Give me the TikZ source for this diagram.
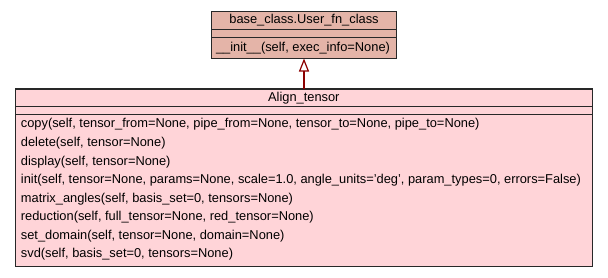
\documentclass[tikz,border=0pt]{standalone}
\usepackage{fontspec}
\setmainfont{Liberation Sans}
\usetikzlibrary{arrows.meta}
\definecolor{baseFill}{RGB}{228,180,168}
\definecolor{clsFill}{RGB}{255,212,216}
\definecolor{edge}{RGB}{40,40,40}
\definecolor{inherit}{RGB}{140,0,0}
\tikzset{
  x=1bp, y=-1bp,
  umlbox/.style={draw=edge, line width=1.2bp},
  umltext/.style={font=\fontsize{12.9}{14}\selectfont, inner sep=0pt, anchor=west, text=black},
  umltitle/.style={font=\fontsize{12.9}{14}\selectfont, inner sep=0pt, text=black},
}
\begin{document}
\begin{tikzpicture}
\useasboundingbox (0,0) rectangle (608,277);

% base class box
\filldraw[umlbox, fill=baseFill] (211.5,11.5) rectangle (396.5,58.5);
\draw[umlbox] (211.5,29.3) -- (396.5,29.3);
\draw[umlbox] (211.5,37.7) -- (396.5,37.7);
\node[umltitle] (basetitle) at (304,20.6) {base\_class.User\_fn\_class};
\node[umltext] (baseinit) at (215.8,48.2) {\_\_init\_\_(self, exec\_info=None)};
\coordinate (basebot) at (304,58.5);

% derived class box
\filldraw[umlbox, fill=clsFill] (15.3,89) rectangle (592.3,266.7);
\draw[umlbox] (15.3,106.7) -- (592.3,106.7);
\draw[umlbox] (15.3,114.7) -- (592.3,114.7);
\node[umltitle] (clstitle) at (303.8,97.8) {Align\_tensor};
\coordinate (clstop) at (304,89);

\foreach \i/\m in {
  0/{copy(self, tensor\_from=None, pipe\_from=None, tensor\_to=None, pipe\_to=None)},
  1/{delete(self, tensor=None)},
  2/{display(self, tensor=None)},
  3/{init(self, tensor=None, params=None, scale=1.0, angle\_units='deg', param\_types=0, errors=False)},
  4/{matrix\_angles(self, basis\_set=0, tensors=None)},
  5/{reduction(self, full\_tensor=None, red\_tensor=None)},
  6/{set\_domain(self, tensor=None, domain=None)},
  7/{svd(self, basis\_set=0, tensors=None)}}
  \node[umltext] (m\i) at (20.7,124.6+18.55*\i) {\m};

% inheritance arrow
\draw[inherit, line width=2bp, -{Triangle[open, length=13bp, width=10bp, line width=1.2bp]}] (clstop) -- (basebot);
\end{tikzpicture}
\end{document}
